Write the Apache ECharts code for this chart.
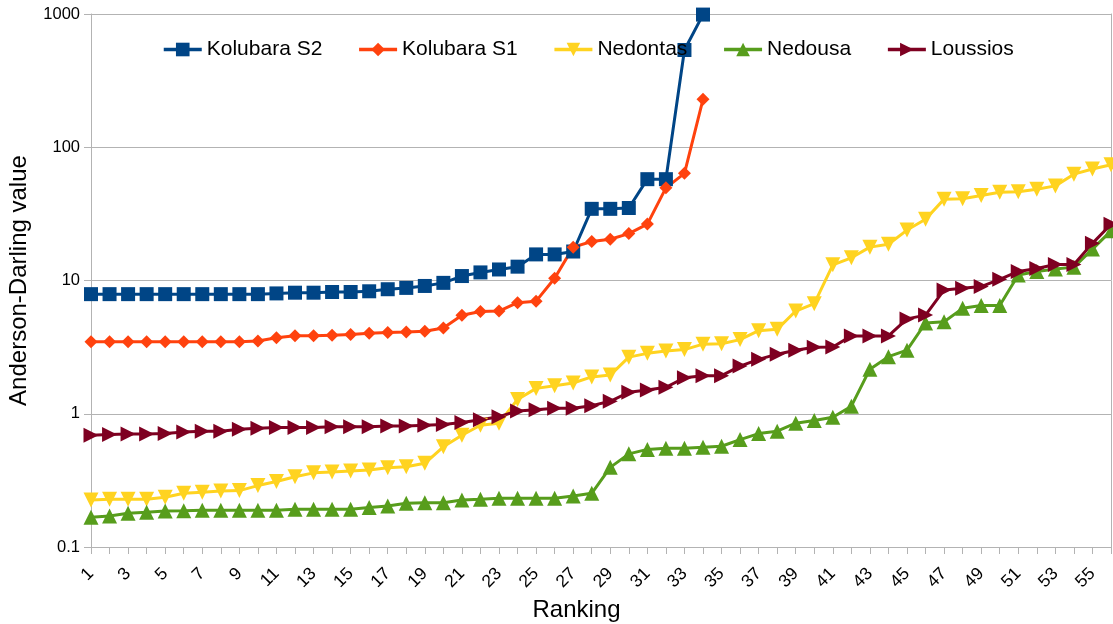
<!DOCTYPE html>
<html>
<head>
<meta charset="utf-8">
<script src="https://cdn.jsdelivr.net/npm/echarts@6/dist/echarts.min.js"></script>
<style>
  html, body { margin: 0; padding: 0; background: #ffffff; }
  #chart { width: 1113px; height: 624px; }
</style>
</head>
<body>
<div id="chart"></div>
<script>
// Ranking positions 1..56
const rankings = ['1','2','3','4','5','6','7','8','9','10','11','12','13','14','15','16','17','18','19','20',
  '21','22','23','24','25','26','27','28','29','30','31','32','33','34','35','36','37','38','39','40',
  '41','42','43','44','45','46','47','48','49','50','51','52','53','54','55','56'];

// Anderson-Darling values per ranking
const kolubaraS2 = [7.9,7.9,7.9,7.9,7.9,7.9,7.9,7.9,7.9,7.9,
  8.0,8.1,8.1,8.2,8.2,8.3,8.6,8.8,9.1,9.6,
  10.8,11.5,12.1,12.7,15.7,15.7,16.5,34.5,34.5,35,
  57.6,57.6,537,990];

const kolubaraS1 = [3.47,3.47,3.47,3.47,3.47,3.47,3.47,3.47,3.47,3.51,
  3.72,3.85,3.85,3.89,3.93,4.02,4.07,4.11,4.16,4.4,
  5.48,5.86,5.9,6.82,7.0,10.4,17.8,19.6,20.4,22.5,
  26.5,49.6,63.7,229];

const nedontas = [0.225,0.228,0.228,0.228,0.236,0.253,0.258,0.263,0.265,0.289,
  0.31,0.337,0.36,0.365,0.372,0.378,0.393,0.4,0.425,0.565,
  0.69,0.82,0.85,1.28,1.55,1.62,1.7,1.89,1.95,2.66,
  2.84,2.96,3.03,3.33,3.35,3.6,4.2,4.3,5.9,6.7,
  13.1,14.8,17.8,18.7,23.9,28.8,40.8,41.0,43.4,45.9,
  46.4,48.4,51.3,62.8,68.7,74];

const nedousa = [0.167,0.171,0.179,0.182,0.186,0.187,0.189,0.189,0.189,0.189,
  0.189,0.192,0.192,0.192,0.192,0.198,0.203,0.213,0.215,0.215,
  0.225,0.228,0.232,0.232,0.232,0.232,0.241,0.253,0.396,0.5,
  0.54,0.55,0.55,0.56,0.57,0.64,0.71,0.74,0.85,0.89,
  0.94,1.14,2.16,2.68,3.0,4.8,4.9,6.18,6.5,6.5,
  11.0,11.7,12.2,12.6,17.2,23.6];

const loussios = [0.69,0.70,0.705,0.705,0.71,0.73,0.74,0.74,0.765,0.78,
  0.79,0.79,0.79,0.80,0.80,0.80,0.81,0.81,0.82,0.83,
  0.86,0.90,0.95,1.05,1.07,1.1,1.1,1.15,1.24,1.45,
  1.51,1.58,1.86,1.93,1.93,2.28,2.56,2.8,3.0,3.15,
  3.17,3.84,3.84,3.84,5.15,5.5,8.5,8.74,9.0,10.2,
  11.7,12.3,13.2,13.2,19.0,26.4];

const seriesNames = ['Kolubara S2', 'Kolubara S1', 'Nedontas', 'Nedousa', 'Loussios'];
const seriesData = [kolubaraS2, kolubaraS1, nedontas, nedousa, loussios];
const seriesColors = ['#004586', '#ff420e', '#ffd320', '#579d1c', '#7e0021'];
const seriesSymbols = ['rect', 'diamond', 'triangle', 'triangle', 'triangle'];
const seriesRotate = [0, 0, 180, 0, -90];
const seriesSizes = [14, 13, 15, 15, 15];

const FONT = '"Liberation Sans", Arial, sans-serif';
const AXIS_GRAY = '#b3b3b3';

const chart = echarts.init(document.getElementById('chart'), null, { renderer: 'canvas' });

const fmt = v => String(parseFloat(Number(v).toPrecision(6)));

chart.setOption({
  animation: false,
  backgroundColor: '#ffffff',
  textStyle: { fontFamily: FONT },
  grid: { left: 91, right: 2, top: 14, bottom: 77, containLabel: false, outerBoundsMode: 'none' },
  legend: {
    top: 34,
    left: 157,
    itemWidth: 38,
    itemHeight: 17,
    itemGap: 35,
    lineStyle: { width: 3.5 },
    textStyle: { fontFamily: FONT, fontSize: 21, color: '#000000' },
    data: seriesNames
  },
  xAxis: {
    type: 'category',
    data: rankings,
    boundaryGap: false,
    name: 'Ranking',
    nameLocation: 'middle',
    nameGap: 44,
    nameTextStyle: { fontFamily: FONT, fontSize: 24, color: '#000000', padding: [0, 49, 0, 0] },
    axisLine: { show: true, lineStyle: { color: AXIS_GRAY, width: 1 } },
    axisTick: { show: true, interval: 0, length: 7, lineStyle: { color: AXIS_GRAY } },
    axisLabel: { interval: 1, rotate: 45, margin: 24, fontFamily: FONT, fontSize: 17.5, color: '#000000' },
    splitLine: { show: false }
  },
  yAxis: [{
    type: 'log',
    logBase: 10,
    min: 0.1,
    max: 1000,
    name: 'Anderson-Darling value',
    nameLocation: 'middle',
    nameGap: 60,
    nameTextStyle: { fontFamily: FONT, fontSize: 24, color: '#000000' },
    axisLine: { show: true, lineStyle: { color: AXIS_GRAY, width: 1 } },
    axisTick: { show: true, length: 7, lineStyle: { color: AXIS_GRAY } },
    minorTick: { show: false },
    axisLabel: {
      margin: 11, fontFamily: FONT, fontSize: 16.5, color: '#000000', formatter: fmt,
      verticalAlign: 'middle', verticalAlignMinLabel: 'middle', verticalAlignMaxLabel: 'middle'
    },
    splitLine: { show: true, lineStyle: { color: AXIS_GRAY, width: 1 } }
  }, {
    // plain right-hand frame line of the plot area
    type: 'log',
    logBase: 10,
    min: 0.1,
    max: 1000,
    position: 'right',
    axisLine: { show: true, onZero: false, lineStyle: { color: AXIS_GRAY, width: 1 } },
    axisTick: { show: false },
    axisLabel: { show: false },
    splitLine: { show: false }
  }],
  series: seriesNames.map((name, i) => ({
    name: name,
    type: 'line',
    data: seriesData[i],
    yAxisIndex: 0,
    symbol: seriesSymbols[i],
    symbolSize: seriesSizes[i],
    symbolRotate: seriesRotate[i],
    showAllSymbol: true,
    color: seriesColors[i],
    lineStyle: { color: seriesColors[i], width: 3 },
    itemStyle: { color: seriesColors[i] },
    emphasis: { disabled: true }
  }))
});
</script>
</body>
</html>
